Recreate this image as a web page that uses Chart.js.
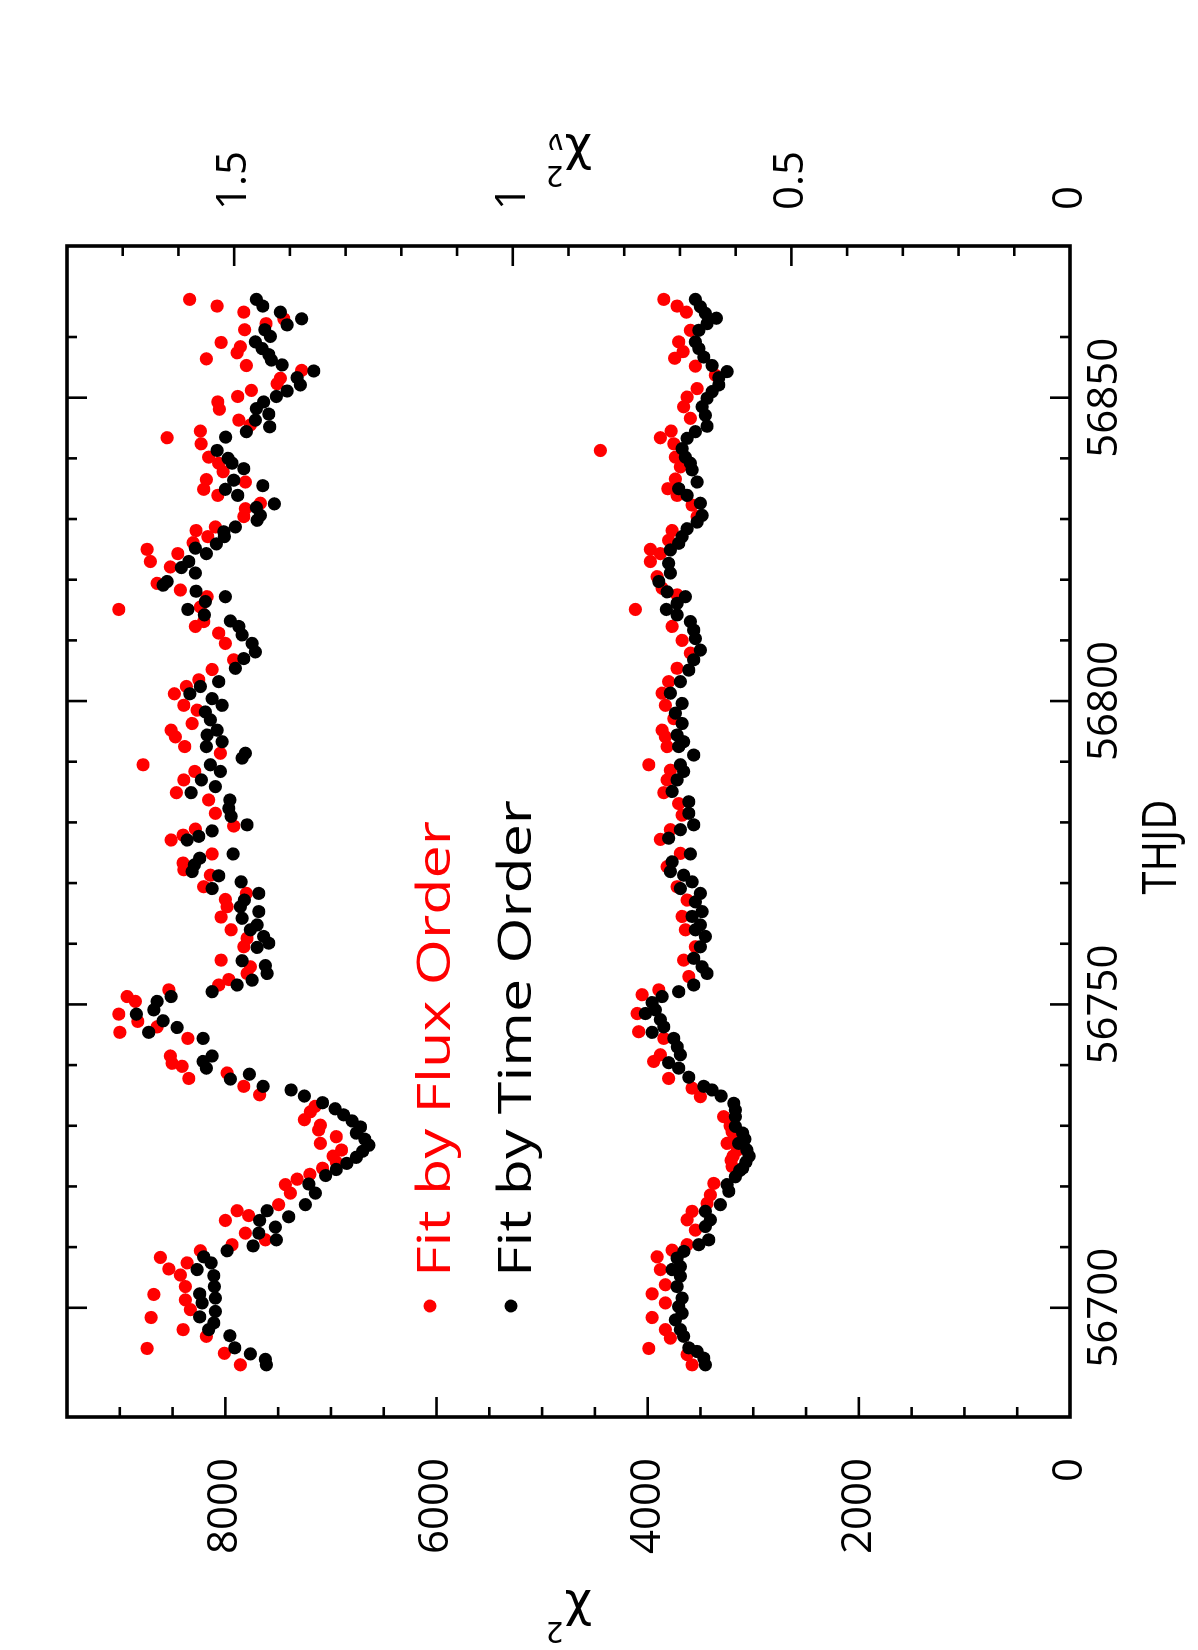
<!DOCTYPE html>
<html>
<head>
<meta charset="utf-8">
<script src="https://cdn.jsdelivr.net/npm/chart.js@4.4.1/dist/chart.umd.min.js"></script>
<style>
  html, body { margin: 0; padding: 0; background: #fff; overflow: hidden; }
  body { width: 1198px; height: 1650px; position: relative; }
  #wrap { position: absolute; left: 0; top: 0; width: 1650px; height: 1198px;
          transform-origin: 0 0; transform: translateY(1650px) rotate(-90deg); }
</style>
</head>
<body>
<div id="wrap"><canvas id="c" width="1650" height="1198"></canvas></div>
<script>
// ---- axis ranges / tick labels ----
const thjdRange = [56682, 56875];
const chi2Range = [0, 9500];
const chi2nuRange = [0, 1.8];
const thjdLabels = [56700, 56750, 56800, 56850];
const chi2Labels = [0, 2000, 4000, 6000, 8000];
const chi2nuLabels = [0, 0.5, 1, 1.5];
const seriesNames = ['Fit by Flux Order', 'Fit by Time Order'];

// ---- data: [THJD, chi2] ----
const fluxOrderHigh = [
 [56866.2,8338],[56865.1,8079],[56864.1,7826],[56863.0,7447],[56862.2,7615],[56861.2,7817],[56859.1,8041],[56858.4,7858],
 [56857.4,7889],[56856.4,8180],[56855.3,7801],[56854.5,7277],[56853.2,7479],[56852.3,7510],[56851.2,7753],[56850.2,7883],
 [56849.3,8072],[56848.1,8056],[56846.3,7873],[56845.5,7763],[56844.5,8236],[56843.4,8552],[56842.4,8230],[56840.2,8158],
 [56839.2,8063],[56837.8,8022],[56836.5,8180],[56836.1,7810],[56834.9,8205],[56833.9,8072],[56832.6,7668],[56831.7,7810],
 [56830.4,7826],[56828.7,8094],[56828.1,8278],[56827.1,8167],[56826.1,8306],[56825.0,8742],[56824.3,8451],
 [56823.0,8710],[56822.1,8521],[56819.4,8647],[56818.3,8426],[56817.2,8173],[56815.5,8236],[56815.1,9010],[56813.1,8205],
 [56812.3,8284],[56811.2,8063],[56809.5,8000],[56806.8,7921],[56805.2,8126],[56803.5,8252],[56802.4,8369],[56801.2,8483],
 [56799.3,8394],[56798.5,8268],[56796.3,8315],[56795.2,8514],[56794.1,8473],[56792.5,8385],[56791.4,8047],[56789.5,8780],
 [56788.4,8290],[56787.0,8394],[56784.9,8464],[56783.7,8158],[56781.5,8094],[56779.4,7921],[56778.9,8284],[56777.9,8401],
 [56777.1,8514],
 [56774.8,8126],[56773.3,8401],[56772.2,8394],[56771.3,8142],[56769.4,8205],[56768.3,7801],[56767.3,8000],[56766.1,7984],
 [56764.4,8041],[56762.3,7946],[56760.9,7795],[56759.5,7826],[56757.3,8041],[56756.2,7763],[56755.1,7795],[56754.1,7968],
 [56753.2,8063],[56752.4,8536],[56751.3,8931],[56750.5,8852],[56748.4,9010],[56747.2,8830],[56746.3,8647],[56745.4,9000],
 [56744.4,8356],[56741.5,8521],[56740.3,8505],[56739.8,8410],[56738.7,7984],[56737.8,8347],[56736.5,7826],[56735.1,7675],
 [56733.2,7150],[56732.3,7195],[56731.0,7252],[56730.1,7100],[56729.3,7116],[56728.2,6950],[56727.1,7100],[56726.0,6900],
 [56725.0,6980],[56724.0,6950],[56723.0,7080],[56722.0,7200],[56721.2,7320],
 [56720.3,7431],[56718.9,7384],[56717.0,7495],[56716.0,7889],[56715.2,7779],[56714.4,8000],[56712.3,7810],[56711.2,7621],
 [56710.4,7937],[56709.4,8236],[56708.3,8615],[56707.4,8363],[56706.4,8536],[56705.4,8426],[56703.5,8379],[56702.2,8678],
 [56701.3,8379],[56699.7,8331],[56698.4,8704],[56696.4,8401],[56695.3,8180],[56693.3,8742],[56692.5,8009],[56690.6,7858]
];
const timeOrderHigh = [
 [56866.2,7706],[56865.1,7646],[56864.1,7479],[56863.0,7277],[56862.0,7416],[56861.2,7627],[56860.1,7574],[56859.2,7716],
 [56858.1,7652],[56857.1,7589],[56856.2,7564],[56855.4,7463],[56854.4,7163],[56853.3,7321],[56852.1,7290],[56851.1,7416],
 [56850.2,7517],[56849.3,7637],[56848.2,7706],[56847.3,7589],[56846.3,7716],[56845.2,7580],[56844.4,7801],[56843.5,7997],
 [56841.3,8079],[56840.0,7974],[56839.2,7937],[56838.3,7826],[56836.4,7921],[56835.5,7646],[56834.9,8000],[56833.9,7883],
 [56832.5,7536],[56831.9,7706],[56830.6,7668],[56829.8,7700],[56828.7,7905],[56827.9,8015],[56827.1,8009],[56825.9,8085],
 [56825.2,8284],[56824.3,8180],
 [56823.0,8347],[56822.0,8416],[56821.1,8284],[56819.7,8552],[56819.1,8590],[56818.1,8278],[56817.2,8000],[56816.4,8189],
 [56815.1,8356],[56814.2,8199],[56813.2,7952],[56812.3,7873],[56810.9,7842],[56809.5,7747],[56808.1,7716],[56807.0,7826],
 [56805.4,7905],[56803.2,8063],[56802.4,8236],[56801.2,8337],[56800.4,8126],[56799.3,8031],[56798.2,8189],[56796.9,8142],
 [56795.2,8079],[56794.4,8173],[56793.3,8031],[56792.5,8180],[56791.4,7810],[56790.6,7842],[56789.5,8142],[56788.4,8047],
 [56787.0,8227],[56785.9,8094],[56784.9,8325],[56783.7,7958],[56782.3,7968],[56781.0,7946],[56779.6,7795],[56778.6,8126],
 [56777.7,8252],[56777.1,8363],
 [56774.8,7927],[56774.1,8243],[56773.0,8293],[56771.9,8315],[56771.2,8063],[56770.2,7851],[56769.1,8126],[56768.3,7684],
 [56767.2,7820],[56766.1,7858],[56765.3,7684],[56764.2,7842],[56763.1,7700],[56762.3,7763],[56761.2,7637],[56760.1,7589],
 [56759.4,7700],[56757.2,7842],[56756.4,7621],[56755.1,7605],[56754.0,7747],[56753.2,7889],[56752.1,8126],[56751.3,8514],
 [56750.5,8647],[56749.1,8678],[56748.4,8843],[56747.3,8590],[56746.2,8457],[56745.4,8726],[56744.4,8211],[56741.5,8126],
 [56740.6,8211],[56739.5,8180],[56738.5,7772],[56737.7,7952],[56736.5,7643],[56735.9,7378],[56734.9,7252],
 [56733.8,7080],[56732.8,6960],[56731.8,6880],[56730.8,6800],[56729.8,6720],[56728.8,6760],[56727.8,6680],[56726.8,6640],
 [56725.8,6700],[56724.8,6760],[56723.8,6850],[56722.8,6950],[56721.8,7050],
 [56720.4,7210],[56718.9,7147],[56717.0,7242],[56716.0,7605],[56715.0,7400],[56714.4,7675],[56713.3,7526],[56712.3,7684],
 [56711.2,7517],[56710.2,7738],[56709.4,7984],[56708.4,8205],[56707.4,8135],[56706.3,8268],[56705.3,8110],[56703.5,8104],
 [56702.3,8243],[56701.6,8094],[56700.8,8221],[56699.4,8094],[56698.5,8243],[56697.5,8110],[56696.4,8158],[56695.4,7958],
 [56693.4,7911],[56692.4,7763],[56691.5,7621],[56690.6,7611]
];
const fluxOrderLow = [
 [56866.2,3848],[56865.1,3722],[56864.1,3633],[56861.1,3595],[56859.2,3706],[56857.6,3665],[56856.5,3744],[56855.2,3548],
 [56853.7,3359],[56851.5,3532],[56850.1,3627],[56848.5,3659],[56846.6,3595],[56844.5,3778],[56843.4,3880],[56842.4,3753],
 [56841.3,4448],[56840.2,3737],[56838.6,3690],[56836.6,3737],[56835.0,3810],[56833.9,3722],[56832.3,3580],[56830.4,3532],
 [56828.1,3769],[56826.5,3801],[56825.0,3974],[56824.3,3880],
 [56823.0,3974],[56820.5,3911],[56818.6,3864],[56817.5,3722],[56815.1,4116],[56812.3,3769],[56810.0,3674],[56807.9,3595],
 [56805.4,3722],[56803.2,3801],[56801.3,3864],[56799.3,3832],[56797.1,3753],[56795.2,3864],[56794.1,3832],[56792.5,3816],
 [56789.5,3990],[56788.6,3785],[56787.0,3816],[56784.9,3848],[56783.1,3706],[56781.2,3674],[56778.8,3785],[56777.2,3880],
 [56774.9,3690],[56772.7,3816],[56769.4,3722],[56767.2,3627],[56764.5,3674],[56762.3,3643],[56759.5,3548],[56757.3,3659],
 [56754.6,3611],[56752.4,3895],[56751.6,4053],[56748.5,4100],[56745.5,4085],[56744.4,3848],[56741.7,3880],[56740.6,3943],
 [56737.8,3801],[56736.2,3580],[56734.8,3501],[56731.5,3280],[56730.0,3220],[56729.0,3200],[56728.0,3180],[56727.1,3248],
 [56726.0,3150],[56725.0,3190],[56724.3,3210],[56723.3,3201],
 [56720.5,3374],[56718.6,3406],[56717.2,3438],[56715.9,3580],[56714.5,3627],[56712.8,3548],[56710.4,3627],[56709.5,3769],
 [56708.4,3911],[56706.3,3880],[56703.8,3832],[56702.3,3958],[56700.8,3832],[56698.4,3958],[56696.4,3832],[56695.0,3785],
 [56693.3,3990],[56692.3,3627],[56690.6,3580]
];
const timeOrderLow = [
 [56866.2,3548],[56865.0,3501],[56863.9,3453],[56863.1,3349],[56862.2,3438],[56861.1,3516],[56859.2,3548],[56858.1,3516],
 [56856.7,3469],[56855.3,3390],[56854.3,3248],[56853.3,3327],[56852.1,3327],[56851.0,3390],[56849.9,3438],[56848.5,3485],
 [56847.1,3453],[56845.3,3438],[56844.4,3548],[56843.3,3627],[56841.6,3674],[56840.2,3643],[56839.2,3595],[56838.1,3580],
 [56836.1,3532],[56835.0,3706],[56833.9,3627],[56832.6,3501],[56830.6,3485],[56829.5,3532],[56828.4,3627],[56827.1,3674],
 [56826.0,3706],[56824.9,3785],
 [56822.7,3801],[56821.1,3785],[56819.7,3895],[56818.0,3816],[56817.2,3643],[56816.1,3722],[56815.1,3823],[56814.2,3722],
 [56813.1,3595],[56811.7,3564],[56810.3,3548],[56808.4,3501],[56806.8,3564],[56805.1,3611],[56803.2,3690],[56801.3,3785],
 [56799.6,3674],[56798.0,3737],[56796.3,3674],[56794.4,3722],[56793.3,3659],[56792.5,3706],[56791.1,3564],[56789.5,3690],
 [56788.4,3659],[56787.0,3722],[56785.1,3769],[56783.4,3611],[56781.5,3611],[56779.6,3564],[56778.8,3690],[56777.4,3801],
 [56774.8,3595],[56773.5,3769],[56771.9,3785],[56771.3,3659],[56770.2,3580],[56769.1,3690],[56768.3,3501],[56766.9,3548],
 [56765.3,3485],[56764.5,3580],[56763.1,3501],[56762.3,3548],[56761.2,3453],[56759.5,3501],[56757.6,3564],[56756.2,3485],
 [56755.1,3438],[56753.2,3564],[56752.1,3706],[56751.3,3864],[56750.3,3958],[56749.1,3927],[56748.5,4021],[56747.5,3880],
 [56746.3,3848],[56745.4,3958],[56744.4,3753],[56743.0,3720],[56741.7,3690],[56740.4,3801],[56739.5,3706],[56738.0,3611],
 [56736.5,3469],[56735.9,3390],[56734.9,3305],[56733.7,3185],[56732.6,3170],[56731.5,3169],[56729.9,3169],[56728.8,3100],
 [56727.8,3080],[56727.1,3138],[56726.0,3060],[56725.0,3040],[56724.0,3070],[56723.0,3100],[56722.6,3130],
 [56721.6,3169],[56720.3,3248],[56719.2,3232],[56717.0,3311],[56715.9,3453],[56714.5,3406],[56713.4,3453],[56711.2,3422],
 [56710.4,3516],[56709.3,3658],[56708.2,3722],[56706.8,3690],[56706.3,3769],[56705.2,3690],[56703.5,3722],[56701.6,3674],
 [56700.2,3706],[56699.1,3674],[56698.0,3737],[56696.4,3690],[56695.3,3659],[56693.4,3611],[56692.8,3532],[56691.7,3469],
 [56690.6,3453]
];

const RED = '#ff0000', BLACK = '#000000';
const FONT = '"Open Sans", "DejaVu Sans", sans-serif';
const toPts = arr => arr.map(([t, c]) => ({ x: t, y: c }));

function fitText(ctx, text, x, y, width, size, align) {
  ctx.save();
  ctx.font = `400 ${size}px ${FONT}`;
  const w = ctx.measureText(text).width;
  const sx = width / w;
  ctx.translate(x, y);
  ctx.scale(sx, 1);
  ctx.textBaseline = 'alphabetic';
  ctx.textAlign = 'left';
  let x0 = 0;
  if (align === 'center') x0 = -w / 2;
  ctx.fillText(text, x0, 0);
  ctx.restore();
}

function chiLabel(ctx, cx, cy, withNu) {
  ctx.save();
  ctx.translate(cx, cy);
  ctx.rotate(-Math.PI / 2);
  ctx.fillStyle = '#000';
  ctx.textBaseline = 'alphabetic';
  ctx.textAlign = 'left';
  const big = '48px "DejaVu Sans", sans-serif';
  const small = '28px "DejaVu Sans", sans-serif';
  ctx.font = big;
  const wc = ctx.measureText('χ').width;
  ctx.font = small;
  const ws = ctx.measureText('2').width;
  const total = wc + ws + 2;
  const x0 = -total / 2;
  const base = 10;
  ctx.font = big;
  ctx.fillText('χ', x0, base);
  ctx.font = small;
  ctx.fillText('2', x0 + wc + 1, base - 22);
  if (withNu) ctx.fillText('ν', x0 + wc + 1, base + 10);
  ctx.restore();
}

const decorPlugin = {
  id: 'decor',
  afterDatasetsDraw(chart) {
    const { ctx, chartArea: a, scales } = chart;
    ctx.save();
    ctx.strokeStyle = '#000';
    ctx.lineCap = 'butt';
    ctx.lineWidth = 2.6;
    const seg = (x1, y1, x2, y2) => { ctx.beginPath(); ctx.moveTo(x1, y1); ctx.lineTo(x2, y2); ctx.stroke(); };
    // THJD ticks (bottom and top, inward)
    scales.x.ticks.forEach(t => {
      const v = t.value;
      if (Math.abs(v / 10 - Math.round(v / 10)) > 1e-6) return;
      const p = scales.x.getPixelForValue(v);
      const len = Math.round(v) % 50 === 0 ? 20 : 10;
      seg(p, a.bottom, p, a.bottom - len);
      seg(p, a.top, p, a.top + len);
    });
    // chi2 ticks (left, inward)
    scales.y.ticks.forEach(t => {
      const v = t.value;
      if (v <= scales.y.min || v >= scales.y.max) return;
      const p = scales.y.getPixelForValue(v);
      const len = Math.round(v) % 2000 === 0 ? 20 : 10;
      seg(a.left, p, a.left + len, p);
    });
    // reduced chi2 ticks (right, inward)
    scales.y2.ticks.forEach(t => {
      const v = t.value;
      if (v <= scales.y2.min + 1e-9 || v >= scales.y2.max - 1e-9) return;
      const p = scales.y2.getPixelForValue(v);
      const len = Math.round(v * 10) % 5 === 0 ? 20 : 10;
      seg(a.right, p, a.right - len, p);
    });
    // frame
    ctx.lineWidth = 3.6;
    ctx.strokeRect(a.left, a.top, a.right - a.left, a.bottom - a.top);

    // axis titles
    ctx.fillStyle = '#000';
    fitText(ctx, 'THJD', 803, 1176, 95, 48, 'center');
    chiLabel(ctx, 40, (a.top + a.bottom) / 2, false);
    chiLabel(ctx, 1496, (a.top + a.bottom) / 2, true);

    // legend
    const leg = [
      { name: seriesNames[0], color: RED, dotY: 430, base: 450, x0: 373, w: 456 },
      { name: seriesNames[1], color: BLACK, dotY: 511, base: 531, x0: 373, w: 477 }
    ];
    leg.forEach(l => {
      ctx.fillStyle = l.color;
      ctx.beginPath();
      ctx.arc(344, l.dotY, 6.5, 0, Math.PI * 2);
      ctx.fill();
      fitText(ctx, l.name, l.x0, l.base, l.w, 46, 'left');
    });
    ctx.restore();
  }
};

const tickFont = { family: FONT, size: 42, weight: 400 };

new Chart(document.getElementById('c'), {
  type: 'scatter',
  data: {
    datasets: [
      { label: seriesNames[1], data: toPts(timeOrderHigh), backgroundColor: BLACK, order: 1 },
      { label: seriesNames[1], data: toPts(timeOrderLow), backgroundColor: BLACK, order: 1 },
      { label: seriesNames[0], data: toPts(fluxOrderHigh), backgroundColor: RED, order: 2 },
      { label: seriesNames[0], data: toPts(fluxOrderLow), backgroundColor: RED, order: 2 }
    ]
  },
  options: {
    responsive: false,
    animation: false,
    devicePixelRatio: 1,
    layout: { padding: { top: 67, left: 0, right: 0, bottom: 0 } },
    elements: { point: { radius: 6.6, borderWidth: 0, hoverRadius: 6.6 } },
    plugins: { legend: { display: false }, tooltip: { enabled: false } },
    scales: {
      x: {
        type: 'linear', position: 'bottom',
        min: thjdRange[0], max: thjdRange[1],
        grid: { display: false, drawTicks: false }, border: { display: false },
        ticks: {
          stepSize: 10, autoSkip: false, maxRotation: 0, padding: 10, color: '#000', font: tickFont,
          callback: v => thjdLabels.includes(Math.round(v)) && Math.abs(v - Math.round(v)) < 1e-6 ? String(Math.round(v)) : ''
        },
        afterFit: s => { s.height = 128; }
      },
      y: {
        type: 'linear', position: 'left',
        min: chi2Range[0], max: chi2Range[1],
        grid: { display: false, drawTicks: false }, border: { display: false },
        ticks: {
          stepSize: 500, autoSkip: false, padding: 41, color: '#000', font: tickFont,
          callback: v => chi2Labels.includes(v) ? String(v) : ''
        },
        afterFit: s => { s.width = 233; }
      },
      y2: {
        type: 'linear', position: 'right', display: true,
        min: chi2nuRange[0], max: chi2nuRange[1],
        grid: { display: false, drawTicks: false }, border: { display: false },
        ticks: {
          stepSize: 0.1, autoSkip: false, padding: 36, color: '#000', font: tickFont,
          callback: v => { const r = Math.round(v * 10) / 10; return chi2nuLabels.includes(r) ? String(r) : ''; }
        },
        afterFit: s => { s.width = 246; }
      }
    }
  },
  plugins: [decorPlugin]
});
</script>
</body>
</html>
